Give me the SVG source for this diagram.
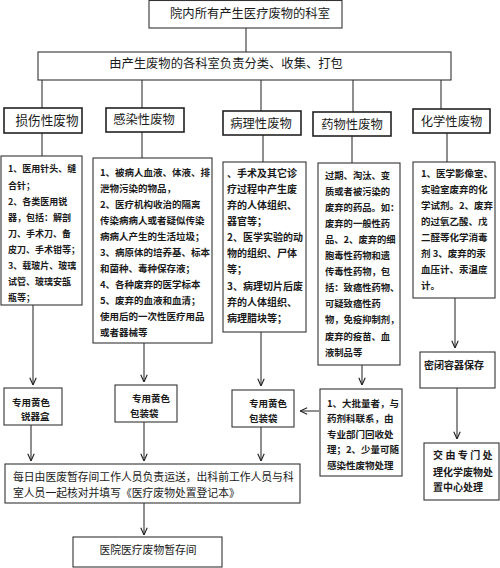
<svg xmlns="http://www.w3.org/2000/svg" width="500" height="568" viewBox="0 0 500 568">
<style>
text{font-family:"Noto Sans CJK SC","Noto Sans",sans-serif;fill:#1a1a1a}
.box{fill:#fff;stroke:#333;stroke-width:1.1}
.cat{fill:#fff;stroke:#222;stroke-width:1.6}
.ln{stroke:#333;stroke-width:1.1;fill:none}
.arr{stroke:#333;stroke-width:1.1;fill:none;marker-end:url(#ah)}
.t12{font-size:12.3px}
.t13{font-size:12.6px}
.d9{font-size:9px;font-weight:bold}
.d95{font-size:9.5px;font-weight:bold}
.d93{font-size:9.3px;font-weight:bold}
.d10{font-size:10px;font-weight:bold}
.t11{font-size:10.8px}
</style>
<defs>
<marker id="ah" viewBox="0 0 10 10" refX="10" refY="5" markerWidth="8" markerHeight="8" orient="auto" markerUnits="userSpaceOnUse">
<path d="M1,1 L10,5 L1,9" fill="none" stroke="#222" stroke-width="1.4"/>
</marker>
</defs>
<rect width="500" height="568" fill="#fff"/>

<g id="connectors">
<line class="ln" x1="246" y1="28" x2="246" y2="52"/>
<line class="ln" x1="42" y1="80" x2="42" y2="108"/>
<line class="ln" x1="142" y1="80" x2="142" y2="108"/>
<line class="ln" x1="261" y1="80" x2="261" y2="111"/>
<line class="ln" x1="353" y1="80" x2="353" y2="112"/>
<line class="ln" x1="441" y1="80" x2="441" y2="109"/>
<line class="ln" x1="42" y1="133" x2="42" y2="156"/>
<line class="ln" x1="142" y1="132" x2="142" y2="158"/>
<line class="ln" x1="263" y1="135" x2="263" y2="162"/>
<line class="ln" x1="352" y1="136" x2="352" y2="163"/>
<line class="ln" x1="447" y1="133" x2="447" y2="162"/>
<line class="arr" x1="33" y1="305" x2="33" y2="385"/>
<line class="arr" x1="144" y1="343" x2="144" y2="382"/>
<line class="arr" x1="261" y1="332" x2="261" y2="386"/>
<line class="arr" x1="362" y1="365" x2="362" y2="385"/>
<line class="arr" x1="455" y1="298" x2="455" y2="348"/>
<line class="arr" x1="319" y1="411" x2="300" y2="411"/>
<line class="arr" x1="457" y1="388" x2="457" y2="439"/>
<line class="arr" x1="31" y1="425" x2="31" y2="461"/>
<line class="arr" x1="144" y1="422" x2="144" y2="461"/>
<line class="arr" x1="261" y1="427" x2="261" y2="461"/>
<line class="arr" x1="144" y1="503" x2="144" y2="535"/>
</g>

<g id="n-top">
<rect class="box" x="149" y="0.5" width="193" height="27.5"/>
<text class="t12" x="250" y="17.7" text-anchor="middle">院内所有产生医疗废物的科室</text>
</g>

<g id="n-sort">
<rect class="box" x="38" y="52" width="413" height="28"/>
<text class="t12" x="226" y="67.7" text-anchor="middle">由产生废物的各科室负责分类、收集、打包</text>
</g>

<g id="c-sharp">
<rect class="cat" x="4" y="108" width="78" height="25"/>
<text class="t13" x="47" y="124.8" text-anchor="middle">损伤性废物</text>
</g>
<g id="c-infect">
<rect class="cat" x="106" y="108" width="78" height="24"/>
<text class="t12" x="144" y="123.7" text-anchor="middle">感染性废物</text>
</g>
<g id="c-path">
<rect class="cat" x="223" y="111" width="78" height="24"/>
<text class="t12" x="261" y="127.7" text-anchor="middle">病理性废物</text>
</g>
<g id="c-drug">
<rect class="cat" x="313" y="112" width="78" height="24"/>
<text class="t12" x="352" y="128.7" text-anchor="middle">药物性废物</text>
</g>
<g id="c-chem">
<rect class="cat" x="413" y="109" width="77" height="24"/>
<text class="t12" x="451.5" y="125.7" text-anchor="middle">化学性废物</text>
</g>

<g id="d-sharp">
<rect class="box" x="1" y="156" width="81" height="149"/>
<text class="d9" x="8" y="172.4">
<tspan x="8">1、医用针头、缝</tspan>
<tspan x="8" dy="16.1">合针；</tspan>
<tspan x="8" dy="16.1">2、各类医用锐</tspan>
<tspan x="8" dy="16.1">器，包括：解剖</tspan>
<tspan x="8" dy="16.1">刀、手术刀、备</tspan>
<tspan x="8" dy="16.1">皮刀、手术钳等；</tspan>
<tspan x="8" dy="16.1">3、载玻片、玻璃</tspan>
<tspan x="8" dy="16.1">试管、玻璃安瓿</tspan>
<tspan x="8" dy="16.1">瓶等；</tspan>
</text>
</g>

<g id="d-infect">
<rect class="box" x="93" y="158" width="119" height="185"/>
<text class="d95" x="100" y="175.6">
<tspan x="100">1、被病人血液、体液、排</tspan>
<tspan x="100" dy="16">泄物污染的物品，</tspan>
<tspan x="100" dy="16">2、医疗机构收治的隔离</tspan>
<tspan x="100" dy="16">传染病病人或者疑似传染</tspan>
<tspan x="100" dy="16">病病人产生的生活垃圾；</tspan>
<tspan x="100" dy="16">3、病原体的培养基、标本</tspan>
<tspan x="100" dy="16">和菌种、毒种保存液；</tspan>
<tspan x="100" dy="16">4、各种废弃的医学标本</tspan>
<tspan x="100" dy="16">5、废弃的血液和血清；</tspan>
<tspan x="100" dy="16">使用后的一次性医疗用品</tspan>
<tspan x="100" dy="16">或者器械等</tspan>
</text>
</g>

<g id="d-path">
<rect class="box" x="223" y="162" width="83" height="170"/>
<text class="d10" x="227" y="176.8">
<tspan x="227">、手术及其它诊</tspan>
<tspan x="227" dy="16.1">疗过程中产生废</tspan>
<tspan x="227" dy="16.1">弃的人体组织、</tspan>
<tspan x="227" dy="16.1">器官等；</tspan>
<tspan x="227" dy="16.1">2、医学实验的动</tspan>
<tspan x="227" dy="16.1">物的组织、尸体</tspan>
<tspan x="227" dy="16.1">等；</tspan>
<tspan x="227" dy="16.1">3、病理切片后废</tspan>
<tspan x="227" dy="16.1">弃的人体组织、</tspan>
<tspan x="227" dy="16.1">病理腊块等；</tspan>
</text>
</g>

<g id="d-drug">
<rect class="box" x="318" y="163" width="82" height="202"/>
<text class="d93" x="325" y="178.5">
<tspan x="325">过期、淘汰、变</tspan>
<tspan x="325" dy="16.1">质或者被污染的</tspan>
<tspan x="325" dy="16.1">废弃的药品。如：</tspan>
<tspan x="325" dy="16.1">废弃的一般性药</tspan>
<tspan x="325" dy="16.1">品、2、废弃的细</tspan>
<tspan x="325" dy="16.1">胞毒性药物和遗</tspan>
<tspan x="325" dy="16.1">传毒性药物，包</tspan>
<tspan x="325" dy="16.1">括：致癌性药物、</tspan>
<tspan x="325" dy="16.1">可疑致癌性药</tspan>
<tspan x="325" dy="16.1">物，免疫抑制剂，</tspan>
<tspan x="325" dy="16.1">废弃的疫苗、血</tspan>
<tspan x="325" dy="16.1">液制品等</tspan>
</text>
</g>

<g id="d-chem">
<rect class="box" x="413" y="162" width="82" height="136"/>
<text class="d95" x="421" y="176.6">
<tspan x="421">1、医学影像室、</tspan>
<tspan x="421" dy="16.1">实验室废弃的化</tspan>
<tspan x="421" dy="16.1">学试剂。2、废弃</tspan>
<tspan x="421" dy="16.1">的过氧乙酸、戊</tspan>
<tspan x="421" dy="16.1">二醛等化学消毒</tspan>
<tspan x="421" dy="16.1">剂 3、废弃的汞</tspan>
<tspan x="421" dy="16.1">血压计、汞温度</tspan>
<tspan x="421" dy="16.1">计。</tspan>
</text>
</g>

<g id="y-sharp">
<rect class="box" x="4" y="388" width="58" height="37"/>
<text class="d95" x="12" y="405.6">专用黄色</text>
<text class="d95" x="21" y="419.6">锐器盒</text>
</g>

<g id="y-infect">
<rect class="box" x="115" y="385" width="62" height="37"/>
<text class="d95" x="132" y="401.6">专用黄色</text>
<text class="d95" x="130" y="416.6">包装袋</text>
</g>

<g id="y-path">
<rect class="box" x="232" y="390" width="62" height="37"/>
<text class="d95" x="249" y="406.6">专用黄色</text>
<text class="d95" x="249" y="421.6">包装袋</text>
</g>

<g id="n-bulk">
<rect class="box" x="320" y="389" width="82" height="87"/>
<text class="d95" x="327" y="406.6">
<tspan x="327">1、大批量者，与</tspan>
<tspan x="327" dy="15.6">药剂科联系，由</tspan>
<tspan x="327" dy="15.6">专业部门回收处</tspan>
<tspan x="327" dy="15.6">理；2、少量可随</tspan>
<tspan x="327" dy="15.6">感染性废物处理</tspan>
</text>
</g>

<g id="n-sealed">
<rect class="box" x="420" y="352" width="75" height="36"/>
<text class="d10" x="454" y="368.8" text-anchor="middle">密闭容器保存</text>
</g>

<g id="n-chemcenter">
<rect class="box" x="424" y="443" width="75" height="57"/>
<text class="d10" x="433" y="458.8" letter-spacing="2.4">交由专门处</text>
<text class="d10" x="433" y="475.8">理化学废物处</text>
<text class="d10" x="433" y="490.8">置中心处理</text>
</g>

<g id="n-transport">
<rect class="box" x="5" y="464" width="295" height="39"/>
<text class="t11" x="13" y="481.1">每日由医废暂存间工作人员负责运送，出科前工作人员与科</text>
<text class="t11" x="13" y="497.1">室人员一起核对并填写《医疗废物处置登记本》</text>
</g>

<g id="n-storage">
<rect class="box" x="73" y="537" width="149" height="30"/>
<text class="t11" x="148" y="554.1" text-anchor="middle">医院医疗废物暂存间</text>
</g>
</svg>
